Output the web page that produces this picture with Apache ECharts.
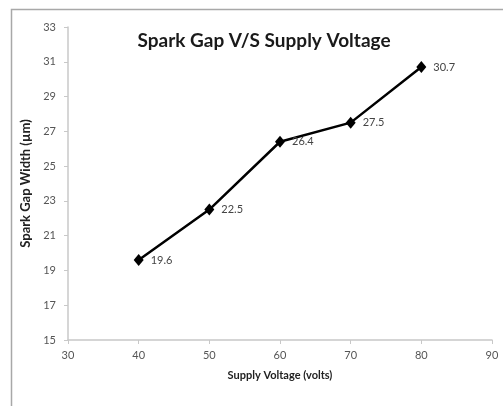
<!DOCTYPE html>
<html>
<head>
<meta charset="utf-8">
<script src="https://cdn.jsdelivr.net/npm/echarts@6/dist/echarts.min.js"></script>
<style>
  html, body { margin: 0; padding: 0; background: #fff; }
  #main { width: 503px; height: 406px; }
</style>
</head>
<body>
<div id="main"></div>
<script>
// supply voltage (volts) and measured spark gap width (µm)
var voltage = [40, 50, 60, 70, 80];
var gapWidth = [19.6, 22.5, 26.4, 27.5, 30.7];

var chartTitle = "Spark Gap V/S Supply Voltage";
var xName = "Supply Voltage (volts)";
var yName = "Spark Gap Width (\u00b5m)";

var myChart = echarts.init(document.getElementById("main"));

var points = voltage.map(function (v, i) {
  return [v, gapWidth[i]];
});

var axisGray = "#c8c8c8";
var font = "Lato, 'Open Sans', sans-serif";

var option = {
  animation: false,
  title: {
    text: chartTitle,
    left: 259,
    textAlign: "center",
    top: 26,
    textStyle: {
      fontFamily: font,
      fontSize: 19,
      fontWeight: "bold",
      color: "#1a1a1a"
    }
  },
  graphic: [
    {
      type: "rect",
      shape: { x: 11.5, y: 9.5, width: 600, height: 500 },
      style: { fill: "none", stroke: "#a8a8a8", lineWidth: 1.5 },
      silent: true
    }
  ],
  grid: {
    left: 68,
    right: 11,
    top: 27,
    bottom: 66
  },
  xAxis: {
    type: "value",
    min: 30,
    max: 90,
    interval: 10,
    name: xName,
    nameLocation: "middle",
    nameGap: 30,
    nameTextStyle: {
      fontFamily: font,
      fontSize: 11,
      fontWeight: "bold",
      color: "#222"
    },
    axisLine: { lineStyle: { color: axisGray, width: 1.5 } },
    axisTick: { show: true, length: 4, lineStyle: { color: axisGray } },
    axisLabel: { fontFamily: font, fontSize: 11, color: "#555", margin: 10 },
    splitLine: { show: false }
  },
  yAxis: {
    type: "value",
    min: 15,
    max: 33,
    interval: 2,
    name: yName,
    nameLocation: "middle",
    nameGap: 27,
    nameTextStyle: {
      fontFamily: font,
      fontSize: 13,
      fontWeight: "bold",
      color: "#222"
    },
    axisLine: { show: true, lineStyle: { color: axisGray, width: 1.5 } },
    axisTick: { show: true, length: 4, lineStyle: { color: axisGray } },
    axisLabel: { fontFamily: font, fontSize: 11, color: "#555", margin: 12 },
    splitLine: { show: false }
  },
  series: [
    {
      type: "line",
      data: points,
      symbol: "diamond",
      symbolSize: [10, 12],
      itemStyle: { color: "#000" },
      lineStyle: { color: "#000", width: 2.5 },
      label: {
        show: true,
        position: "right",
        distance: 7,
        fontFamily: font,
        fontSize: 11,
        color: "#444",
        formatter: function (p) {
          return p.value[1].toFixed(1);
        }
      }
    }
  ]
};

myChart.setOption(option);
</script>
</body>
</html>
